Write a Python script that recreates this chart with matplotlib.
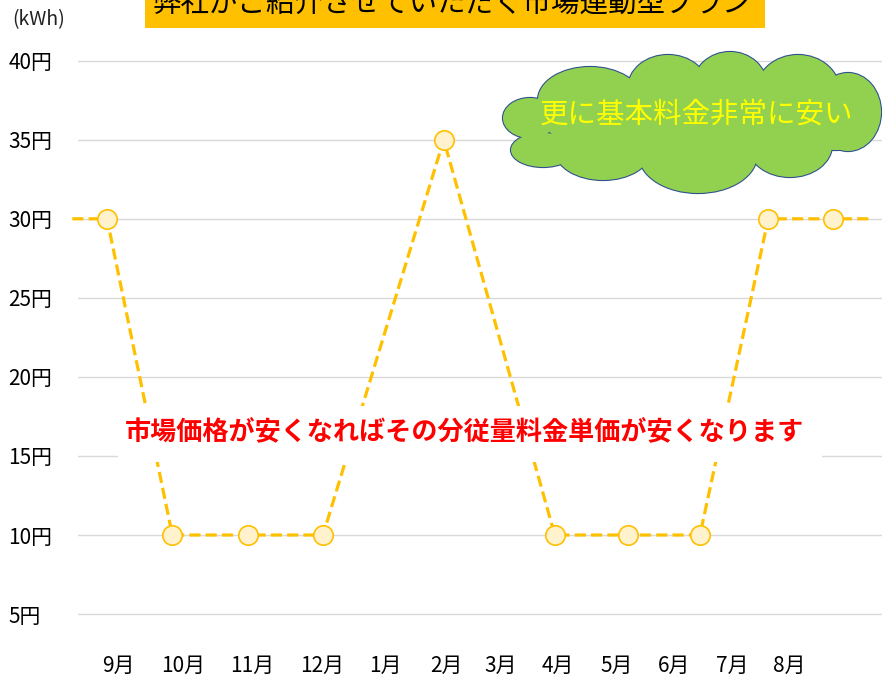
import matplotlib
matplotlib.use("Agg")
import matplotlib.pyplot as plt
from matplotlib.patches import Ellipse, Rectangle

plt.rcParams['font.family'] = ['Noto Sans CJK JP', 'DejaVu Sans']

# month labels and where they sit on the x axis
months = ['9月', '10月', '11月', '12月', '1月', '2月', '3月', '4月', '5月', '6月', '7月', '8月']
month_pos = [0, 1.07, 2.20, 3.34, 4.38, 5.39, 6.28, 7.21, 8.18, 9.11, 10.07, 11.0]

# price points (円/kWh) as drawn
pt_x = [-0.18, 0.89, 2.13, 3.36, 5.34, 7.16, 8.36, 9.54, 10.66, 11.72]
pt_y = [30, 10, 10, 10, 35, 10, 10, 10, 30, 30]
# line continues past the first and last point
start_x, start_y = -0.75, 30
end_x, end_y = 12.33, 30

yticks = [5, 10, 15, 20, 25, 30, 35, 40]
ylabels = [f'{v}円' for v in yticks]

W, H = 882, 681
fig = plt.figure(figsize=(W / 100, H / 100), dpi=100)

ax = fig.add_axes([78 / W, 41 / H, 804 / W, 610 / H])
ax.set_xlim(-0.656, 12.525)
ax.set_ylim(3.36, 41.94)
for s in ax.spines.values():
    s.set_visible(False)
ax.set_yticks(yticks, ylabels)
ax.set_xticks(month_pos, months)
ax.tick_params(axis='y', length=0, pad=50, labelsize=15)
ax.tick_params(axis='x', length=0, pad=11, labelsize=15)
for lab in ax.get_yticklabels():
    lab.set_horizontalalignment('left')
ax.grid(axis='y', color='#D9D9D9', lw=1)
ax.set_axisbelow(True)

line_x = [start_x] + pt_x + [end_x]
line_y = [start_y] + pt_y + [end_y]
ax.plot(line_x, line_y, color='#FFC000', lw=2.3, dashes=(3.5, 1.6),
        clip_on=False, zorder=2)
ax.plot(pt_x, pt_y, ls='none', marker='o', ms=14, mfc='#FFF2CC',
        mec='#FFC000', mew=1.2, clip_on=False, zorder=3)

# overlay in pixel coordinates for the annotations
ov = fig.add_axes([0, 0, 1, 1])
ov.set_xlim(0, W)
ov.set_ylim(H, 0)
ov.axis('off')
ov.patch.set_alpha(0)

ov.text(12, 20, '(kWh)', fontsize=14, va='center', ha='left', color='#222222')

ov.add_patch(Rectangle((145, -2), 620, 29.7, color='#FFC000', lw=0))
ov.text(452, 4, '弊社がご紹介させていただく市場連動型プラン', fontsize=20.5,
        ha='center', va='center', color='black')

# cloud: outlined lobes, then the same lobes filled on top so only the outer edge stays
lobes = [(530, 118, 54, 40), (543, 150, 64, 34), (590, 100, 104, 66),
         (668, 88, 80, 66), (730, 86, 74, 68), (798, 92, 84, 74),
         (848, 112, 66, 78), (835, 135, 70, 30), (790, 145, 84, 64),
         (698, 155, 118, 76), (603, 150, 96, 60)]
for cx, cy, w, h in lobes:
    ov.add_patch(Ellipse((cx, cy), w, h, facecolor='#92D050',
                         edgecolor='#2F528F', lw=1.6, zorder=1))
for cx, cy, w, h in lobes + [(695, 122, 300, 80)]:
    ov.add_patch(Ellipse((cx, cy), w, h, facecolor='#92D050',
                         edgecolor='none', zorder=2))
ov.text(696, 115, '更に基本料金非常に安い', fontsize=20.5, color='#FFFF00',
        ha='center', va='center', zorder=3)

# white box with red message
ov.add_patch(Rectangle((118, 406), 704, 56, color='white', lw=0, zorder=1))
ov.text(465, 433, '市場価格が安くなればその分従量料金単価が安くなります',
        fontsize=18.8, fontweight='bold', color='#FF0000',
        ha='center', va='center', zorder=2)

fig.savefig('out.png', dpi=100)
